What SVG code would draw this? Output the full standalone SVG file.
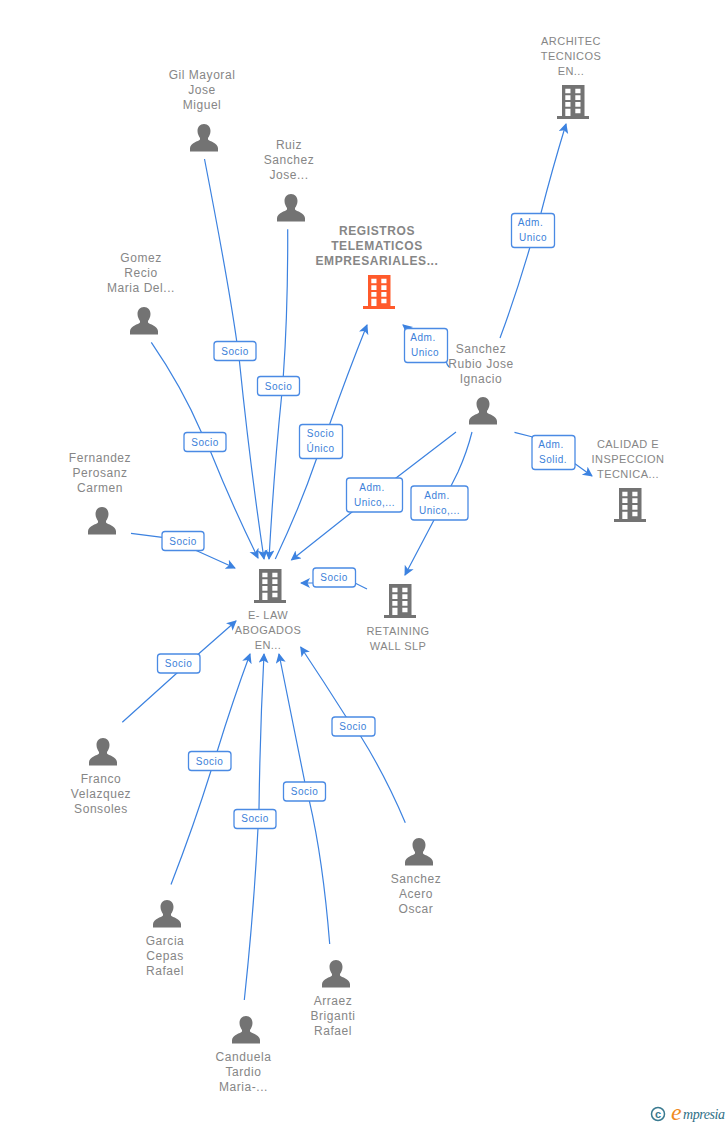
<svg xmlns="http://www.w3.org/2000/svg" xmlns:xlink="http://www.w3.org/1999/xlink" width="728" height="1125" viewBox="0 0 728 1125">
<style>
.n{font:12px "Liberation Sans",Arial,sans-serif;letter-spacing:.55px;fill:#868686;text-anchor:middle}
.c{font-size:11px;letter-spacing:.45px}
.b{font-size:12px;font-weight:bold;letter-spacing:.6px}
.e{fill:none;stroke:#3c82e0;stroke-width:1.2;marker-end:url(#a)}
.l rect{fill:#fff;stroke:#4a8ae4;stroke-width:1.3}
.l text{font:10px "Liberation Sans",Arial,sans-serif;letter-spacing:.5px;fill:#3c7fd9;text-anchor:middle}
</style>
<defs>
<marker id="a" markerUnits="userSpaceOnUse" markerWidth="12" markerHeight="12" refX="9" refY="5" orient="auto"><path d="M0 0L10 5L0 10L2.500 5Z" fill="#3c82e0"/></marker>
<symbol id="bld" width="32" height="34" viewBox="0 0 32 34" overflow="visible"><path fill-rule="evenodd" d="M5 0H27.500V31H32V34H0V31H5ZM8.300 3.700V8.300H13.500V3.700ZM18.300 3.700V8.300H23.500V3.700ZM8.300 10.300V15H13.500V10.300ZM18.300 10.300V15H23.500V10.300ZM8.300 17V21.700H13.500V17ZM18.300 17V21.700H23.500V17ZM8.300 23.700V31H13.500V23.700ZM18.300 23.700V28.300H23.500V23.700Z"/></symbol>
<symbol id="per" width="28" height="28" viewBox="0 0 28 28"><path fill="#737373" d="M14 0C18 0 20.500 3 20.500 7C20.500 10 19 12.500 18 14V15.500C19.500 17.500 27.500 18.500 28 24V27.500H0V24C.5 18.500 8.500 17.500 10 15.500V14C9 12.500 7.500 10 7.500 7C7.500 3 10 0 14 0Z"/></symbol>
</defs>
<g id="connectors">
<path class="e" d="M204.500 159Q228 280 236.700 341L239.300 360Q250 465 264 559"/>
<path class="e" d="M287.700 229.300Q288 310 283.300 376L281.700 395Q274 470 269 559"/>
<path class="e" d="M151.300 342.300Q182 387 201.700 433L210.700 452Q232 505 258 558"/>
<path class="e" d="M131 533.300L162.300 537.300L197.300 551L235 568"/>
<path class="e" d="M275.300 559Q300 507 316.700 458.300L330 423.300Q347 375 367 325"/>
<path class="e" d="M456 432L396 478L351.700 512.300L291.500 560"/>
<path class="e" d="M472 432Q467 452 458 472L434 520L405 575"/>
<path class="e" d="M449 367Q447 365 446 361L403 325"/>
<path class="e" d="M500 338Q516 295 530 247L541 213Q552 170 566 124"/>
<path class="e" d="M514.500 432.300L531.700 436.700L575.700 464.300L592 476"/>
<path class="e" d="M367 589L355 583H320L301 583"/>
<path class="e" d="M122.300 722.300L176.700 673.300L199.300 653.300L236 621"/>
<path class="e" d="M171 884.500Q194 825 211 770.700L217.300 751Q233 700 250 654"/>
<path class="e" d="M244.300 1000Q254 910 258 828L259 809Q260 730 264 654"/>
<path class="e" d="M329.700 944Q323 860 309.300 800.700L304.700 781.700Q291 715 279 654"/>
<path class="e" d="M405.300 822.700Q385 775 360.700 736.300L346 716.700Q324 682 300.700 647"/>
</g>
<g id="connector-labels" class="l">
<g><rect x="214" y="341.500" width="42" height="19" rx="3"/><text x="235" y="355">Socio</text></g>
<g><rect x="257.500" y="376.500" width="42" height="19" rx="3"/><text x="278.500" y="390">Socio</text></g>
<g><rect x="184" y="432.500" width="42" height="19" rx="3"/><text x="205" y="446">Socio</text></g>
<g><rect x="162" y="531.500" width="42" height="19" rx="3"/><text x="183" y="545">Socio</text></g>
<g><rect x="299.500" y="424.500" width="43" height="34" rx="3"/><text x="320.500" y="437">Socio</text><text x="320.500" y="452">Único</text></g>
<g><rect x="346.500" y="478" width="56" height="34" rx="3"/><text x="372" y="491">Adm.</text><text x="374.500" y="506">Unico,...</text></g>
<g><rect x="411" y="486" width="57" height="34" rx="3"/><text x="437" y="499">Adm.</text><text x="439.500" y="514">Unico,...</text></g>
<g><rect x="404.500" y="328.500" width="43" height="34" rx="3"/><text x="423" y="341">Adm.</text><text x="425" y="356">Unico</text></g>
<g><rect x="511.500" y="213.500" width="43" height="34" rx="3"/><text x="530.500" y="226">Adm.</text><text x="533" y="241">Unico</text></g>
<g><rect x="532" y="435.500" width="43" height="34" rx="3"/><text x="551" y="448">Adm.</text><text x="553" y="463">Solid.</text></g>
<g><rect x="313" y="568" width="42.500" height="19" rx="3"/><text x="334" y="581">Socio</text></g>
<g><rect x="157.500" y="654" width="42.500" height="19" rx="3"/><text x="178.500" y="667">Socio</text></g>
<g><rect x="188.500" y="751.500" width="42.500" height="19" rx="3"/><text x="209.500" y="765">Socio</text></g>
<g><rect x="234" y="809.500" width="42" height="19" rx="3"/><text x="255" y="822">Socio</text></g>
<g><rect x="283.500" y="782" width="42" height="19" rx="3"/><text x="304.500" y="795">Socio</text></g>
<g><rect x="332" y="717" width="43" height="19" rx="3"/><text x="353" y="730">Socio</text></g>
</g>
<g id="n-elaw"><use xlink:href="#bld" href="#bld" x="254" y="569" fill="#737373"/><text class="n c"><tspan x="268" y="619">E- LAW</tspan><tspan x="268" y="634">ABOGADOS</tspan><tspan x="268" y="649">EN...</tspan></text></g>
<g id="n-registros"><use xlink:href="#bld" href="#bld" x="363" y="275" fill="#ff5a2b"/><text class="n b"><tspan x="377" y="235">REGISTROS</tspan><tspan x="377" y="250">TELEMATICOS</tspan><tspan x="377" y="265">EMPRESARIALES...</tspan></text></g>
<g id="n-architec"><use xlink:href="#bld" href="#bld" x="557" y="85" fill="#737373"/><text class="n c"><tspan x="571" y="45">ARCHITEC</tspan><tspan x="571" y="60">TECNICOS</tspan><tspan x="571" y="75">EN...</tspan></text></g>
<g id="n-calidad"><use xlink:href="#bld" href="#bld" x="614" y="488" fill="#737373"/><text class="n c"><tspan x="628" y="448">CALIDAD E</tspan><tspan x="628" y="463">INSPECCION</tspan><tspan x="628" y="478">TECNICA...</tspan></text></g>
<g id="n-retaining"><use xlink:href="#bld" href="#bld" x="384" y="584" fill="#737373"/><text class="n c"><tspan x="398" y="635">RETAINING</tspan><tspan x="398" y="650">WALL SLP</tspan></text></g>
<g id="n-gil"><use xlink:href="#per" href="#per" x="190" y="124"/><text class="n"><tspan x="202" y="79">Gil Mayoral</tspan><tspan x="202" y="94">Jose</tspan><tspan x="202" y="109">Miguel</tspan></text></g>
<g id="n-ruiz"><use xlink:href="#per" href="#per" x="277" y="194"/><text class="n"><tspan x="289" y="149">Ruiz</tspan><tspan x="289" y="164">Sanchez</tspan><tspan x="289" y="179">Jose...</tspan></text></g>
<g id="n-gomez"><use xlink:href="#per" href="#per" x="130" y="307"/><text class="n"><tspan x="141" y="262">Gomez</tspan><tspan x="141" y="277">Recio</tspan><tspan x="141" y="292">Maria Del...</tspan></text></g>
<g id="n-fernandez"><use xlink:href="#per" href="#per" x="88" y="507"/><text class="n"><tspan x="100" y="462">Fernandez</tspan><tspan x="100" y="477">Perosanz</tspan><tspan x="100" y="492">Carmen</tspan></text></g>
<g id="n-sanchezrubio"><use xlink:href="#per" href="#per" x="469" y="397"/><text class="n"><tspan x="481" y="353">Sanchez</tspan><tspan x="481" y="368">Rubio Jose</tspan><tspan x="481" y="383">Ignacio</tspan></text></g>
<g id="n-franco"><use xlink:href="#per" href="#per" x="89" y="738"/><text class="n"><tspan x="101" y="783">Franco</tspan><tspan x="101" y="798">Velazquez</tspan><tspan x="101" y="813">Sonsoles</tspan></text></g>
<g id="n-garcia"><use xlink:href="#per" href="#per" x="153" y="900"/><text class="n"><tspan x="165" y="945">Garcia</tspan><tspan x="165" y="960">Cepas</tspan><tspan x="165" y="975">Rafael</tspan></text></g>
<g id="n-canduela"><use xlink:href="#per" href="#per" x="232" y="1016"/><text class="n"><tspan x="243.500" y="1061">Canduela</tspan><tspan x="243.500" y="1076">Tardio</tspan><tspan x="243.500" y="1091">Maria-...</tspan></text></g>
<g id="n-arraez"><use xlink:href="#per" href="#per" x="322" y="960"/><text class="n"><tspan x="333" y="1005">Arraez</tspan><tspan x="333" y="1020">Briganti</tspan><tspan x="333" y="1035">Rafael</tspan></text></g>
<g id="n-acero"><use xlink:href="#per" href="#per" x="405" y="838"/><text class="n"><tspan x="416" y="883">Sanchez</tspan><tspan x="416" y="898">Acero</tspan><tspan x="416" y="913">Oscar</tspan></text></g>
<g id="logo"><circle cx="658" cy="1114" r="6.500" fill="none" stroke="#3a7a90" stroke-width="1.500"/><text x="658" y="1118" font-family="Liberation Sans,sans-serif" font-size="11" font-weight="bold" fill="#3a7a90" text-anchor="middle">c</text><text x="671" y="1120" font-family="Liberation Serif,serif" font-style="italic" font-size="24" fill="#f08a1d">e</text><text x="683" y="1119" font-family="Liberation Serif,serif" font-style="italic" font-size="14" fill="#2f6f86" textLength="42">mpresia</text></g>
</svg>
